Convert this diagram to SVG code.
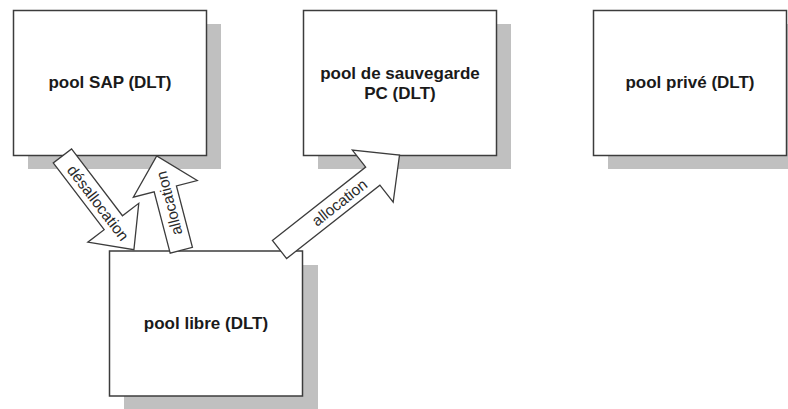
<svg xmlns="http://www.w3.org/2000/svg" width="788" height="409" viewBox="0 0 788 409">
<style>
.shadow{fill:#c0c0c0;stroke:none}
.box{fill:#ffffff;stroke:#3c3c3c;stroke-width:1.5}
.lbl{font-family:"Liberation Sans",Arial,sans-serif;font-weight:bold;font-size:17px;fill:#1a1a1a;text-anchor:middle}
.arrow{fill:#ffffff;stroke:#3c3c3c;stroke-width:1.3;stroke-linejoin:miter}
.alb{font-family:"Liberation Sans",Arial,sans-serif;font-size:15.5px;fill:#2a2a2a;text-anchor:middle}
</style>
<rect width="788" height="409" fill="#ffffff"/>
<g id="node-sap">
<rect class="shadow" x="28" y="24" width="193" height="145"/>
<rect class="box" x="13.5" y="10.5" width="193" height="145"/>
<text class="lbl" x="110" y="88">pool SAP (DLT)</text>
</g>
<g id="node-pc">
<rect class="shadow" x="318" y="24" width="193" height="145"/>
<rect class="box" x="303.5" y="10.5" width="193" height="145"/>
<text class="lbl" x="400" y="78.5">pool de sauvegarde</text>
<text class="lbl" x="400" y="98.5">PC (DLT)</text>
</g>
<g id="node-prive">
<rect class="shadow" x="608" y="24" width="193" height="145"/>
<rect class="box" x="593.5" y="10.5" width="193" height="145"/>
<text class="lbl" x="690" y="88">pool privé (DLT)</text>
</g>
<g id="node-libre">
<rect class="shadow" x="124" y="265" width="194" height="145"/>
<rect class="box" x="109.5" y="251" width="193" height="145"/>
<text class="lbl" x="206" y="329">pool libre (DLT)</text>
</g>
<g id="connectors">
<g id="arrow-desallocation" transform="translate(62.4,155.9) rotate(52.7)">
<polygon class="arrow" points="0,-11.5 84,-11.5 84,-32 118,0 84,32 84,11.5 0,11.5"/>
<text class="alb" x="59" y="5.5">désallocation</text>
</g>
<g id="arrow-allocation-sap" transform="translate(181.3,250.3) rotate(-104.6)">
<polygon class="arrow" points="0,-11.5 63.5,-11.5 63.5,-33 97.5,0 63.5,33 63.5,11.5 0,11.5"/>
<text class="alb" x="48.7" y="5.5">allocation</text>
</g>
<g id="arrow-allocation-pc" transform="translate(279.5,249.5) rotate(-38.2)">
<polygon class="arrow" points="0,-11.5 118.7,-11.5 118.7,-33 152.7,0 118.7,33 118.7,11.5 0,11.5"/>
<text class="alb" x="76.3" y="5.5">allocation</text>
</g>
</g>
</svg>
